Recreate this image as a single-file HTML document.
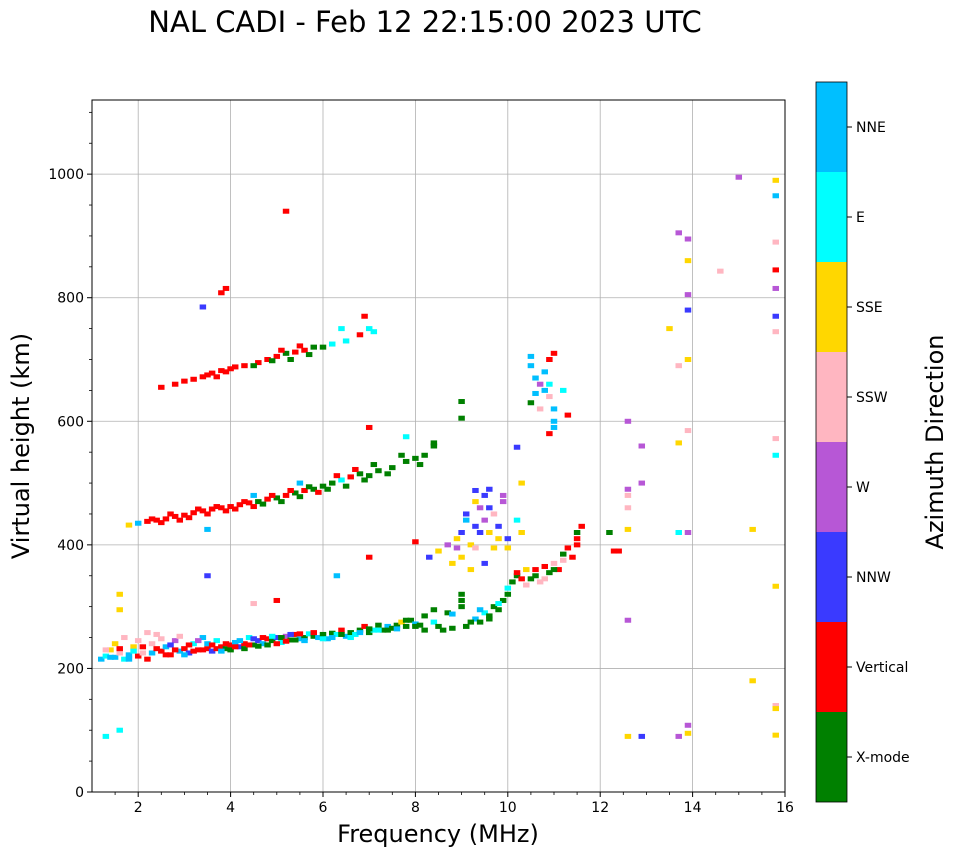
<!DOCTYPE html>
<html><head><meta charset="utf-8"><style>
body{margin:0;background:#fff;font-family:"DejaVu Sans","Liberation Sans",sans-serif}
svg text{font-family:"DejaVu Sans","Liberation Sans",sans-serif}
</style></head><body>
<svg id="chart" width="958" height="857" xmlns="http://www.w3.org/2000/svg">
<text x="425" y="32" font-size="29" text-anchor="middle">NAL CADI - Feb 12 22:15:00 2023 UTC</text>
<g id="grid"></g><g id="marks"></g><g id="axes"></g><g id="cbar"></g>
<text x="438" y="842" font-size="24" text-anchor="middle">Frequency (MHz)</text>
<text transform="translate(29,446) rotate(-90)" font-size="24" text-anchor="middle">Virtual height (km)</text>
<text transform="translate(943,442) rotate(-90)" font-size="24" text-anchor="middle">Azimuth Direction</text>
</svg>
<script>
const dirNames=["X-mode","Vertical","NNW","W","SSW","SSE","E","NNE"];
const dirColors=["#008000","#ff0000","#3a3aff","#b757d6","#ffb6c1","#ffd700","#00ffff","#00bfff"];
const xTicks=[2,4,6,8,10,12,14,16];
const yTicks=[0,200,400,600,800,1000];
const pts=[
[1.2,215,7],[1.3,220,6],[1.4,230,5],[1.5,218,7],[1.6,225,4],[1.7,215,6],[1.8,222,7],[1.9,235,5],[2.0,220,1],[2.1,225,4],[2.2,215,1],[2.3,240,4],[2.4,255,4],[2.5,228,1],[2.6,235,7],[2.7,222,1],[2.8,245,3],[2.9,228,7],[3.0,232,1],[3.1,225,2],[3.2,240,6],[3.3,230,1],[3.4,250,7],[3.5,232,1],[3.6,228,2],[3.7,245,6],[3.8,235,1],[3.9,232,0],[4.0,238,1],[4.1,242,7],[4.2,235,2],[4.3,240,1],[4.4,250,6],[4.5,238,0],[4.6,245,2],[4.7,240,7],[4.8,248,1],[4.9,245,0],[5.0,250,2],[5.1,242,6],[5.2,252,3],[5.3,246,0],[5.4,255,1],[5.5,248,7],[5.6,250,0],[5.7,256,6],[5.8,252,0],[5.9,250,7],[6.0,255,0],[6.1,248,7],[6.2,257,0],[6.3,255,6],[6.4,262,1],[6.5,252,7],[6.6,258,0],[6.7,255,6],[6.8,262,0],[6.9,268,1],[7.0,258,0],[7.1,262,6],[7.2,270,0],[7.3,262,0],[7.4,268,7],[7.5,265,0],[7.6,270,0],[7.7,275,5],[7.8,268,0],[7.9,278,0],[8.0,272,7],[8.1,270,0],[8.2,285,0],[8.4,275,6],[8.5,268,0],[8.7,290,0],[8.8,265,0],[9.0,300,0],[9.0,320,0],[9.1,268,0],[9.3,280,7],[9.4,275,0],[9.5,290,6],[9.6,285,0],[9.7,300,0],[9.8,295,0],[9.9,310,0],[10.0,330,6],[10.1,340,0],[10.2,350,0],[10.3,345,1],[10.4,360,5],[10.5,345,0],[10.6,360,1],[10.7,340,4],[10.8,365,1],[10.9,355,0],[11.0,370,4],[11.1,360,1],[11.2,385,0],[11.3,395,1],[11.5,420,0],[11.5,400,1],[11.6,430,1],[12.2,420,0],[12.3,390,1],[12.4,390,1],
[1.3,230,4],[1.4,218,7],[1.5,240,5],[1.6,232,1],[1.7,250,4],[1.8,215,7],[1.9,228,6],[2.0,245,4],[2.1,235,1],[2.2,258,4],[2.3,225,7],[2.4,232,1],[2.5,248,4],[2.6,222,1],[2.7,238,2],[2.8,230,1],[2.9,252,4],[3.0,222,7],[3.1,238,1],[3.2,228,1],[3.3,245,3],[3.4,230,1],[3.5,240,7],[3.6,238,1],[3.7,232,1],[3.8,228,7],[3.9,240,1],[4.0,230,0],[4.1,235,1],[4.2,245,7],[4.3,232,0],[4.4,238,1],[4.5,248,2],[4.6,236,0],[4.7,250,1],[4.8,238,0],[4.9,252,6],[5.0,240,1],[5.1,250,0],[5.2,244,1],[5.3,255,2],[5.4,246,0],[5.5,256,1],[5.6,245,7],[5.8,258,1],[6.0,248,6],[6.2,250,7],[6.4,255,0],[6.6,250,6],[6.8,258,7],[7.0,264,0],[7.2,262,6],[7.4,262,0],[7.6,264,7],[7.8,278,0],[8.0,268,0],[8.2,262,0],[8.4,295,0],[8.6,262,0],[8.8,288,7],[9.0,310,0],[9.2,275,0],[9.4,295,7],[9.6,280,0],[9.8,305,6],[10.0,320,0],[10.2,355,1],[10.4,335,4],[10.6,350,0],[10.8,345,4],[11.0,360,0],[11.2,375,4],[11.4,380,1],[11.5,410,1],
[8.3,380,2],[8.5,390,5],[8.7,400,3],[8.9,410,5],[9.0,420,2],[9.1,440,7],[9.2,400,5],[9.3,430,2],[9.4,460,3],[9.5,480,2],[9.6,420,5],[9.7,450,4],[9.8,430,2],[9.9,470,3],[10.0,410,2],[10.2,440,6],[10.3,500,5],[9.3,395,4],[9.0,380,5],[9.2,360,5],[9.5,370,2],[8.8,370,5],[9.1,450,2],[9.3,470,5],[9.5,440,3],[9.6,460,2],[9.8,410,5],[9.9,480,3],[10.0,395,5],[10.3,420,5],[9.4,420,2],[9.7,395,5],[8.9,395,3],[9.6,490,2],
[1.8,432,5],[2.0,435,7],[2.2,438,1],[2.4,440,1],[2.6,442,1],[2.8,446,1],[3.0,448,1],[3.2,452,1],[3.4,455,1],[3.6,458,1],[3.8,460,1],[4.0,462,1],[4.2,465,1],[4.4,468,1],[4.6,470,0],[4.8,474,1],[5.0,476,0],[5.2,480,1],[5.4,484,0],[5.6,488,1],[5.8,490,0],[6.0,495,0],[6.2,500,0],[6.4,505,6],[6.6,510,1],[6.8,515,0],[7.0,512,0],[7.2,520,0],[7.5,525,0],[7.8,535,0],[8.0,540,0],[8.2,545,0],[8.4,560,0],[3.5,425,7],[4.5,480,7],[5.5,500,7],
[2.3,442,1],[2.5,436,1],[2.7,450,1],[2.9,440,1],[3.1,444,1],[3.3,458,1],[3.5,450,1],[3.7,462,1],[3.9,455,1],[4.1,458,1],[4.3,470,1],[4.5,462,1],[4.7,466,0],[4.9,480,1],[5.1,470,0],[5.3,488,1],[5.5,478,0],[5.7,494,0],[5.9,485,1],[6.1,490,0],[6.3,512,1],[6.5,495,0],[6.7,522,1],[6.9,505,0],[7.1,530,0],[7.4,515,0],[7.7,545,0],[8.1,530,0],[8.4,565,0],[7.8,575,6],
[2.5,655,1],[2.8,660,1],[3.0,665,1],[3.2,668,1],[3.4,672,1],[3.6,678,1],[3.8,682,1],[4.0,685,1],[4.3,690,1],[4.6,695,1],[4.8,700,1],[5.0,705,1],[5.2,710,0],[5.4,712,1],[5.6,715,1],[5.8,720,0],[6.2,725,6],[6.5,730,6],[6.8,740,1],[7.0,750,6],[3.9,815,1],[3.4,785,2],[5.2,940,1],
[3.5,675,1],[3.7,672,1],[3.9,680,1],[4.1,688,1],[4.5,690,0],[4.9,698,0],[5.1,715,1],[5.3,700,0],[5.5,722,1],[5.7,708,0],[6.0,720,0],[6.4,750,6],[6.9,770,1],[7.1,745,6],[3.8,808,1],
[10.5,690,7],[10.6,670,7],[10.7,660,3],[10.8,650,7],[10.9,640,4],[11.0,620,7],[11.0,600,7],[10.9,700,1],[11.2,650,6],[10.5,630,0],[10.5,705,7],[10.6,645,7],[10.8,680,7],[10.9,660,6],[11.0,710,1],[10.7,620,4],[11.0,590,7],[10.9,580,1],[11.3,610,1],
[12.6,600,3],[12.6,490,3],[12.6,480,4],[12.6,460,4],[12.6,425,5],[12.6,278,3],[12.6,90,5],[12.9,500,3],[12.9,560,3],[12.9,90,2],[13.5,750,5],[13.7,905,3],[13.7,690,4],[13.7,565,5],[13.7,420,6],[13.7,90,3],[13.9,895,3],[13.9,860,5],[13.9,805,3],[13.9,780,2],[13.9,700,5],[13.9,585,4],[13.9,420,3],[13.9,108,3],[13.9,95,5],[14.6,843,4],[15.0,995,3],[15.3,425,5],[15.3,180,5],[15.8,990,5],[15.8,965,7],[15.8,890,4],[15.8,845,1],[15.8,815,3],[15.8,770,2],[15.8,745,4],[15.8,572,4],[15.8,545,6],[15.8,333,5],[15.8,140,4],[15.8,135,5],[15.8,92,5],
[1.3,90,6],[1.6,100,6],[1.6,320,5],[1.6,295,5],[10.2,558,2],[9.0,605,0],[9.0,632,0],[9.3,488,2],[8.0,405,1],[7.0,590,1],[3.5,350,2],[4.5,305,4],[5.0,310,1],[6.3,350,7],[7.0,380,1]
];
const freqs=pts.map(p=>p[0]);
const heights=pts.map(p=>p[1]);
const dirs=pts.map(p=>p[2]);
const NS="http://www.w3.org/2000/svg";
const X0=92,X1=785,Y0=792,Y1=100;
const xMin=1,xMax=16,yMin=0,yMax=1120;
const xs=v=>X0+(v-xMin)/(xMax-xMin)*(X1-X0);
const ys=v=>Y0-(v-yMin)/(yMax-yMin)*(Y0-Y1);
function mk(tag,at,parent){const e=document.createElementNS(NS,tag);for(const k in at)e.setAttribute(k,at[k]);document.getElementById(parent).appendChild(e);return e;}
xTicks.forEach(t=>{
 const g=mk('line',{x1:xs(t),x2:xs(t),y1:Y1,y2:Y0,stroke:'#b0b0b0','stroke-width':0.8},'grid');
 
 
 mk('line',{x1:xs(t),x2:xs(t),y1:Y0,y2:Y0+5,stroke:'#000'},'axes');
 const tx=mk('text',{x:xs(t),y:Y0+20,'font-size':14,'text-anchor':'middle'},'axes');tx.textContent=t;
 
 
});
for(let m=1.5;m<16;m+=0.5){if(m%2) mk('line',{x1:xs(m),x2:xs(m),y1:Y0,y2:Y0+3,stroke:'#000','stroke-width':0.8},'axes');}
yTicks.forEach(t=>{
 if(t>0){const g=mk('line',{x1:X0,x2:X1,y1:ys(t),y2:ys(t),stroke:'#b0b0b0','stroke-width':0.8},'grid');
 
 }
 mk('line',{x1:X0-5,x2:X0,y1:ys(t),y2:ys(t),stroke:'#000'},'axes');
 const tx=mk('text',{x:X0-8,y:ys(t)+5,'font-size':14,'text-anchor':'end'},'axes');tx.textContent=t;
 
 
});
for(let m=50;m<1120;m+=50){if(m%200) mk('line',{x1:X0-3,x2:X0,y1:ys(m),y2:ys(m),stroke:'#000','stroke-width':0.8},'axes');}
const fr=mk('rect',{x:X0,y:Y1,width:X1-X0,height:Y0-Y1,fill:'none',stroke:'#000','stroke-width':1},'axes');


for(let i=0;i<freqs.length;i++){
 const w=xs(freqs[i]+0.14)-xs(freqs[i]);
 const r=mk('rect',{x:xs(freqs[i])-w/2,y:ys(heights[i])-2.5,width:w,height:5,fill:dirColors[dirs[i]]},'marks');
 
 
}
const cbx=816,cbw=31,cbTop=82,seg=90;
for(let i=0;i<8;i++){
 const y=cbTop+(7-i)*seg;
 const r=mk('rect',{x:cbx,y:y,width:cbw,height:seg,fill:dirColors[i]},'cbar');
 
 
 mk('line',{x1:cbx+cbw,x2:cbx+cbw+5,y1:y+seg/2,y2:y+seg/2,stroke:'#000'},'cbar');
 const t=mk('text',{x:cbx+cbw+9,y:y+seg/2+5,'font-size':14},'cbar');t.textContent=dirNames[i];
 
 
}
mk('rect',{x:cbx,y:cbTop,width:cbw,height:seg*8,fill:'none',stroke:'#000','stroke-width':0.8},'cbar');
</script>
</body></html>
